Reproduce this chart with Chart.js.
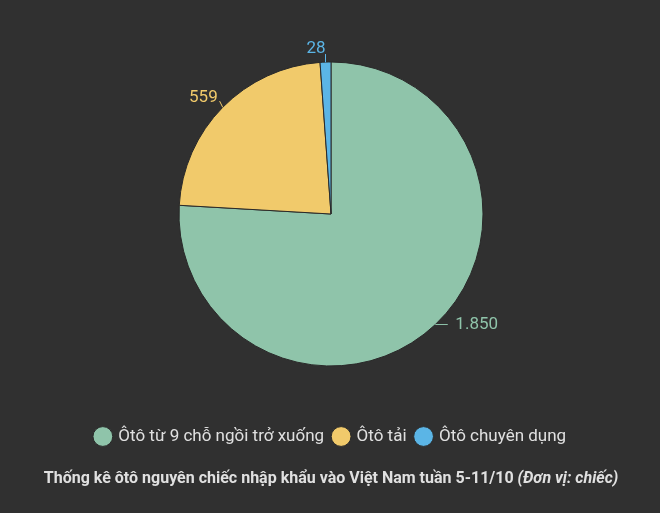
<!DOCTYPE html>
<html>
<head>
<meta charset="utf-8" />
<script src="https://cdn.jsdelivr.net/npm/chart.js@4.4.0/dist/chart.umd.min.js"></script>
<style>
  body { margin:0; background:#303030; overflow:hidden; }
  #wrap { width:660px; height:513px; }
</style>
</head>
<body>
<div id="wrap"><canvas id="pie"></canvas></div>
<script>
const categories = ["Ôtô từ 9 chỗ ngồi trở xuống", "Ôtô tải", "Ôtô chuyên dụng"];
const values = [1850, 559, 28];
const sliceColors = ["#8fc4aa", "#f1ca6b", "#5bb5e6"];
const titleMain = "Thống kê ôtô nguyên chiếc nhập khẩu vào Việt Nam tuần 5-11/10 ";
const titleUnit = "(Đơn vị: chiếc)";

const FONT = "Roboto, 'Noto Sans', sans-serif";

function fmt(v) { return v.toLocaleString("de-DE"); }

// outside labels with short leader lines
const sliceLabels = {
  id: "sliceLabels",
  afterDatasetsDraw(chart, args, opts) {
    const ctx = chart.ctx;
    chart.getDatasetMeta(0).data.forEach((arc, i) => {
      const mid = (arc.startAngle + arc.endAngle) / 2;
      const ex = arc.x + Math.cos(mid) * arc.outerRadius;
      const ey = arc.y + Math.sin(mid) * arc.outerRadius;
      const o = opts.offsets[i];
      const tx = ex + o[0], ty = ey + o[1];
      const lx = ex + o[0] * 0.62, ly = ey + o[1] * 0.62;
      ctx.save();
      ctx.strokeStyle = sliceColors[i];
      ctx.lineWidth = 1;
      ctx.beginPath();
      ctx.moveTo(ex, ey);
      ctx.lineTo(lx, ly);
      ctx.stroke();
      ctx.fillStyle = sliceColors[i];
      ctx.font = "17px " + FONT;
      ctx.textAlign = o[2];
      ctx.textBaseline = "middle";
      ctx.fillText(fmt(values[i]), tx, ty);
      ctx.restore();
    });
  }
};

// bottom title with bold + bold italic parts
const bottomTitle = {
  id: "bottomTitle",
  afterDraw(chart) {
    const ctx = chart.ctx;
    ctx.save();
    ctx.fillStyle = "#e0e0e0";
    ctx.textBaseline = "middle";
    const f1 = "bold 16px " + FONT, f2 = "italic bold 16px " + FONT;
    ctx.font = f1; const w1 = ctx.measureText(titleMain).width;
    ctx.font = f2; const w2 = ctx.measureText(titleUnit).width;
    let x = (chart.width - w1 - w2) / 2 + 1;
    const y = 479;
    ctx.font = f1; ctx.textAlign = "left"; ctx.fillText(titleMain, x, y);
    ctx.font = f2; ctx.fillText(titleUnit, x + w1, y);
    ctx.restore();
  }
};

new Chart(document.getElementById("pie"), {
  type: "pie",
  data: {
    labels: categories,
    datasets: [{
      data: values,
      backgroundColor: sliceColors,
      borderColor: "#2a2a2a",
      borderWidth: 1,
      radius: 152
    }]
  },
  options: {
    responsive: true,
    maintainAspectRatio: false,
    animation: false,
    layout: { padding: { top: 10, bottom: 58, left: 2, right: 0 } },
    plugins: {
      tooltip: { enabled: false },
      legend: {
        position: "bottom",
        labels: {
          color: "#e0e0e0",
          font: { family: FONT, size: 17 },
          usePointStyle: true,
          pointStyle: "circle",
          boxWidth: 14,
          boxHeight: 14,
          padding: 10
        }
      },
      sliceLabels: { offsets: [[20, 0, "left"], [-5, -10, "right"], [0, -13, "right"]] }
    }
  },
  plugins: [sliceLabels, bottomTitle]
});
</script>
</body>
</html>
